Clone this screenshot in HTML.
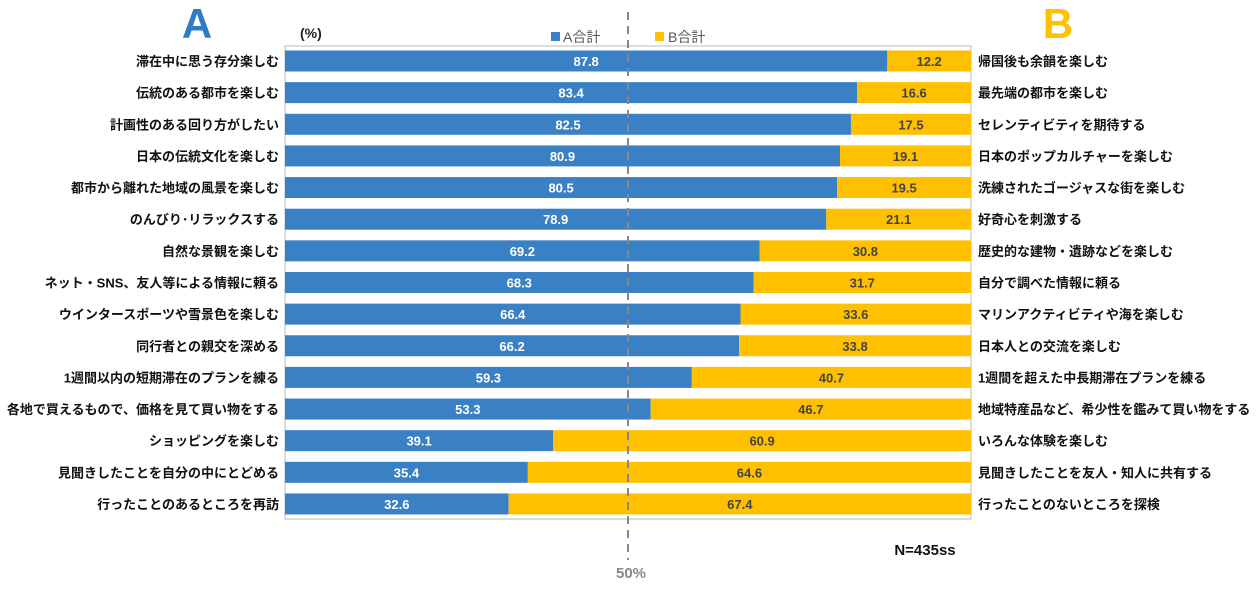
<!DOCTYPE html>
<html><head><meta charset="utf-8"><style>
body{margin:0;background:#fff;width:1259px;height:584px;overflow:hidden;font-family:"Liberation Sans","Noto Sans CJK JP",sans-serif}
</style></head><body>
<svg id="c" width="1259" height="584" xmlns="http://www.w3.org/2000/svg">
<text x="197" y="38" font-size="42" font-weight="bold" fill="#2E7CC4" text-anchor="middle">A</text>
<text x="1058" y="38" font-size="42" font-weight="bold" fill="#FFC000" text-anchor="middle">B</text>
<text x="300" y="38" font-size="14" font-weight="bold" fill="#222">(%)</text>
<rect x="551" y="32" width="9" height="9" fill="#3A80C4"/>
<text x="563" y="42" font-size="14" fill="#555">A合計</text>
<rect x="655" y="32" width="9" height="9" fill="#FFC000"/>
<text x="668" y="42" font-size="14" fill="#555">B合計</text>
<rect x="285" y="46" width="686" height="473" fill="none" stroke="#bbb"/>
<g id="bars"></g>
<line x1="628" y1="12" x2="628" y2="560" stroke="#888" stroke-width="2" stroke-dasharray="8,6"/>
<text x="631" y="578" font-size="15" font-weight="bold" fill="#888" text-anchor="middle">50%</text>
<text x="925" y="555" font-size="15" font-weight="bold" fill="#111" text-anchor="middle">N=435ss</text>
</svg>
<script>
const labelsA=["滞在中に思う存分楽しむ","伝統のある都市を楽しむ","計画性のある回り方がしたい","日本の伝統文化を楽しむ","都市から離れた地域の風景を楽しむ","のんびり･リラックスする","自然な景観を楽しむ","ネット・SNS、友人等による情報に頼る","ウインタースポーツや雪景色を楽しむ","同行者との親交を深める","1週間以内の短期滞在のプランを練る","各地で買えるもので、価格を見て買い物をする","ショッピングを楽しむ","見聞きしたことを自分の中にとどめる","行ったことのあるところを再訪"];
const labelsB=["帰国後も余韻を楽しむ","最先端の都市を楽しむ","セレンティビティを期待する","日本のポップカルチャーを楽しむ","洗練されたゴージャスな街を楽しむ","好奇心を刺激する","歴史的な建物・遺跡などを楽しむ","自分で調べた情報に頼る","マリンアクティビティや海を楽しむ","日本人との交流を楽しむ","1週間を超えた中長期滞在プランを練る","地域特産品など、希少性を鑑みて買い物をする","いろんな体験を楽しむ","見聞きしたことを友人・知人に共有する","行ったことのないところを探検"];
const valuesA=[87.8,83.4,82.5,80.9,80.5,78.9,69.2,68.3,66.4,66.2,59.3,53.3,39.1,35.4,32.6];
const valuesB=[12.2,16.6,17.5,19.1,19.5,21.1,30.8,31.7,33.6,33.8,40.7,46.7,60.9,64.6,67.4];
const NS="http://www.w3.org/2000/svg",g=document.getElementById('bars');
const x0=285,W=686,xs=v=>x0+v/100*W,yc=i=>61+i*31.64,bh=21;
function mk(t,a){const e=document.createElementNS(NS,t);for(const k in a)e.setAttribute(k,a[k]);g.appendChild(e);return e;}
valuesA.forEach((a,i)=>{
 const b=valuesB[i],y=yc(i);
 const r1=mk('rect',{x:xs(0),y:y-bh/2,width:xs(a)-xs(0),height:bh,fill:'#3A80C4'});
 
 
 const r2=mk('rect',{x:xs(a),y:y-bh/2,width:xs(a+b)-xs(a),height:bh,fill:'#FFC000'});
 
 
 const t1=mk('text',{x:(xs(0)+xs(a))/2,y:y+5,'font-size':13,'font-weight':'bold',fill:'#fff','text-anchor':'middle'});t1.textContent=a.toFixed(1);
 
 
 const t2=mk('text',{x:(xs(a)+xs(a+b))/2,y:y+5,'font-size':13,'font-weight':'bold',fill:'#444','text-anchor':'middle'});t2.textContent=b.toFixed(1);
 
 
 const l1=mk('text',{x:279,y:y+5,'font-size':13,'font-weight':'bold',fill:'#111','text-anchor':'end'});l1.textContent=labelsA[i];
 
 
 const l2=mk('text',{x:978,y:y+5,'font-size':13,'font-weight':'bold',fill:'#111'});l2.textContent=labelsB[i];
 
 
});
</script>
</body></html>
